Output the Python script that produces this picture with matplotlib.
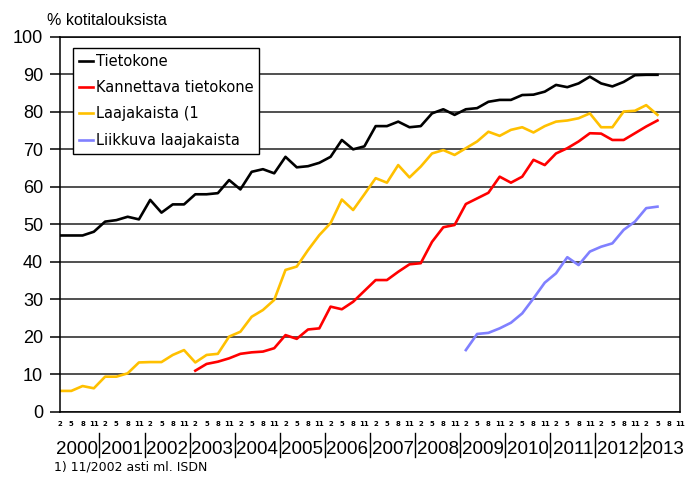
import numpy as np
import matplotlib
matplotlib.use("Agg")
import matplotlib.pyplot as plt
from matplotlib.transforms import blended_transform_factory

# quarterly survey months, Feb 2000 .. Nov 2013
years = [str(y) for y in range(2000, 2014)]
months = ["2", "5", "8", "11"]

# values (% of households), Feb 2000 .. May 2013
tietokone = [47.0, 47.0, 47.0, 48.0, 50.7, 51.1, 52.0, 51.3,
             56.5, 53.1, 55.3, 55.3, 58.0, 58.0, 58.3, 61.8,
             59.3, 64.0, 64.7, 63.6, 68.0, 65.2, 65.5, 66.4,
             68.0, 72.5, 70.0, 70.8, 76.2, 76.2, 77.4, 75.9,
             76.2, 79.6, 80.7, 79.2, 80.7, 81.0, 82.7, 83.2,
             83.2, 84.5, 84.6, 85.4, 87.2, 86.6, 87.6, 89.4,
             87.6, 86.8, 88.0, 89.8, 89.9, 89.9]
kannettava = [None] * 12 + [
             10.9, 12.7, 13.3, 14.2, 15.4, 15.8, 16.0, 16.9,
             20.4, 19.4, 21.9, 22.2, 28.0, 27.3, 29.3, 32.2,
             35.1, 35.1, 37.3, 39.3, 39.6, 45.3, 49.2, 49.8,
             55.4, 56.9, 58.4, 62.7, 61.1, 62.7, 67.2, 65.8,
             68.9, 70.3, 72.1, 74.3, 74.2, 72.5, 72.5, 74.3,
             76.1, 77.7]
laajakaista = [5.5, 5.5, 6.8, 6.2, 9.3, 9.3, 10.2, 13.1,
               13.2, 13.2, 15.1, 16.4, 13.1, 15.1, 15.4, 20.0,
               21.3, 25.3, 27.1, 29.8, 37.8, 38.7, 43.1, 47.1,
               50.3, 56.6, 53.8, 58.0, 62.3, 61.1, 65.8, 62.5,
               65.4, 68.9, 69.8, 68.5, 70.3, 72.1, 74.7, 73.6,
               75.2, 75.9, 74.5, 76.2, 77.4, 77.7, 78.3, 79.6,
               75.9, 75.9, 80.1, 80.3, 81.8, 79.2]
liikkuva = [None] * 36 + [
            16.4, 20.7, 21.0, 22.2, 23.7, 26.2, 30.2, 34.4,
            36.9, 41.2, 39.1, 42.7, 44.0, 44.9, 48.5, 50.7,
            54.3, 54.7]

series = [
    ("Tietokone", tietokone, "#000000"),
    ("Kannettava tietokone", kannettava, "#ff0000"),
    ("Laajakaista (1", laajakaista, "#ffc000"),
    ("Liikkuva laajakaista", liikkuva, "#8080ff"),
]

fig = plt.figure(figsize=(6.86, 4.79), dpi=100)
ax = fig.add_axes([0.0875, 0.1409, 0.9038, 0.7819])

for label, vals, col in series:
    y = np.array([np.nan if v is None else v for v in vals], dtype=float)
    ax.plot(np.arange(len(y)), y, color=col, lw=1.9, label=label)

ax.set_xlim(0, len(years) * 4 - 1)
ax.set_ylim(0, 100)
ax.set_yticks(range(0, 101, 10))
ax.yaxis.grid(True, color="#202020", lw=1.1)
ax.set_axisbelow(True)
for s in ax.spines.values():
    s.set_linewidth(1.1)
    s.set_color("black")
ax.tick_params(axis="y", direction="out", length=7.2, width=1.1, pad=5,
               labelsize=13)
for t in ax.get_yticklabels():
    t.set_fontfamily("Liberation Sans")

ax.set_xticks(range(len(years) * 4))
ax.set_xticklabels(months * len(years), fontsize=5, fontweight="bold")
ax.tick_params(axis="x", length=0, pad=7)

trans = blended_transform_factory(ax.transData, fig.transFigure)
for i, yr in enumerate(years):
    ax.text(4 * i + 1.5, 0.0626, yr, transform=trans, ha="center", va="center",
            fontsize=13.5, family="Liberation Sans", clip_on=False)
    if i > 0:
        ax.plot([4 * i - 0.5] * 2, [0.046, 0.096], transform=trans,
                color="black", lw=1.0, clip_on=False)

leg = ax.legend(loc="upper left", bbox_to_anchor=(0.021, 0.971), borderaxespad=0,
                fontsize=10.5, handlelength=1.0, handletextpad=0.15,
                labelspacing=0.78, borderpad=0.4, fancybox=False,
                framealpha=1, edgecolor="black")
leg.get_frame().set_linewidth(1.0)

fig.text(0.0685, 0.958, "% kotitalouksista", fontsize=11.5,
         family="Liberation Sans", va="center")
fig.text(0.0787, 0.025, "1) 11/2002 asti ml. ISDN", fontsize=9, va="center")

fig.savefig("out.png", dpi=100)
